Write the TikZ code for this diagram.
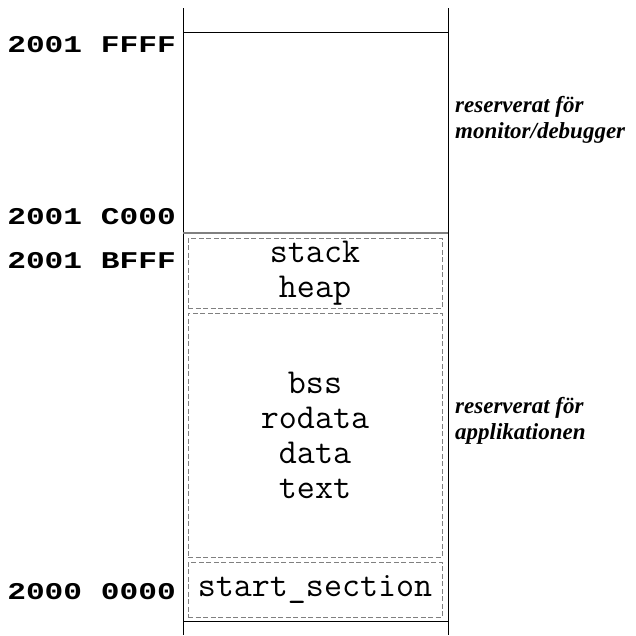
\documentclass[tikz,border=0pt]{standalone}
\usepackage{fontspec}
\newfontfamily\addrfont[FakeStretch=1.3]{Liberation Mono}
\newfontfamily\notefont{Liberation Serif}
\usetikzlibrary{positioning}

\begin{document}
\begin{tikzpicture}[x=1pt,y=-1pt,
      addr/.style={anchor=east,inner sep=0pt,font=\addrfont\bfseries\fontsize{24}{28}\selectfont},
      sect/.style={rectangle,draw=gray,dashed,dash pattern=on 5pt off 2.5pt,line width=0.8pt,minimum width=254pt,inner sep=1pt,align=center,font=\ttfamily\fontsize{35}{35}\selectfont},
      note/.style={anchor=west,align=left,inner sep=0pt,font=\notefont\bfseries\itshape\fontsize{23}{26}\selectfont},
      mem/.style={line width=0.8pt}
      ]
      \useasboundingbox (0,0) rectangle (636,635);
      % memory column
      \draw[mem] (183,8) -- (183,635);
      \draw[mem] (448,8) -- (448,635);
      \draw[mem] (183,32) -- (448,32);
      \draw[mem,gray,line width=1.6pt] (183,233) -- (448,233);
      \draw[mem] (183,621) -- (448,621);
      % sections
      \node (stack) [sect,minimum height=70pt] at (315,273) {stack\\heap};
      \node (bss) [sect,minimum height=244pt] at (315,435) {bss\\rodata\\data\\text};
      \node (start) [sect,minimum height=55pt] at (315,589.5) {start\_section};
      % addresses
      \node (a1) [addr] at (176,45) {2001 FFFF};
      \node (a2) [addr] at (176,217) {2001 C000};
      \node (a3) [addr] at (176,261) {2001 BFFF};
      \node (a4) [addr] at (176,592) {2000 0000};
      % notes
      \node (mon) [note] at (455,120) {reserverat för\\monitor/debugger};
      \node (app) [note] at (455,421) {reserverat för\\applikationen};
    \end{tikzpicture}
\end{document}
